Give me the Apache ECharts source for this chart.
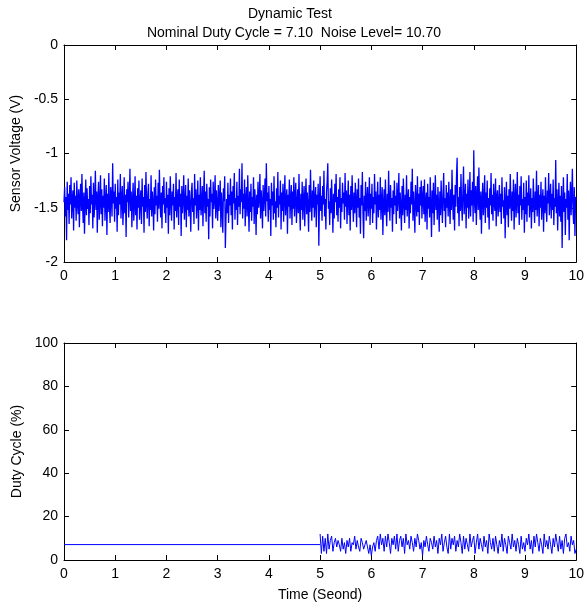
<!DOCTYPE html>
<html>
<head>
<meta charset="utf-8">
<script src="https://cdn.jsdelivr.net/npm/echarts@6/dist/echarts.min.js"></script>
<style>html,body{margin:0;padding:0;background:#fff}#c{width:587px;height:608px}</style>
</head>
<body>
<div id="c"></div>
<script>
// Top panel: sensor voltage sampled every 0.0125 s from 0 to 10 s
var voltStep = 0.0125;
var voltage = [
-1.45,-1.31,-1.58,-1.40,-1.80,-1.26,-1.52,-1.37,-1.65,-1.29,-1.47,-1.22,-1.60,-1.43,-1.34,-1.71,-1.27,-1.50,-1.39,-1.62,
-1.25,-1.46,-1.56,-1.33,-1.68,-1.41,-1.28,-1.53,-1.19,-1.48,-1.64,-1.36,-1.74,-1.44,-1.24,-1.57,-1.32,-1.51,-1.42,-1.66,
-1.30,-1.55,-1.21,-1.47,-1.38,-1.69,-1.27,-1.59,-1.43,-1.16,-1.52,-1.35,-1.73,-1.40,-1.26,-1.61,-1.45,-1.20,-1.56,-1.33,
-1.67,-1.39,-1.50,-1.23,-1.62,-1.44,-1.29,-1.75,-1.37,-1.54,-1.18,-1.48,-1.64,-1.31,-1.41,-1.58,-1.09,-1.46,-1.35,-1.63,
-1.28,-1.51,-1.40,-1.72,-1.24,-1.57,-1.36,-1.47,-1.19,-1.60,-1.42,-1.30,-1.66,-1.49,-1.22,-1.55,-1.38,-1.77,-1.33,-1.45,
-1.26,-1.59,-1.41,-1.14,-1.53,-1.35,-1.68,-1.43,-1.27,-1.62,-1.48,-1.21,-1.57,-1.39,-1.70,-1.32,-1.50,-1.25,-1.61,-1.44,
-1.34,-1.65,-1.23,-1.49,-1.40,-1.73,-1.29,-1.54,-1.17,-1.46,-1.60,-1.37,-1.28,-1.67,-1.42,-1.52,-1.20,-1.58,-1.35,-1.45,
-1.71,-1.31,-1.56,-1.24,-1.48,-1.39,-1.63,-1.27,-1.51,-1.15,-1.44,-1.59,-1.36,-1.69,-1.30,-1.47,-1.22,-1.55,-1.41,-1.64,
-1.26,-1.50,-1.38,-1.74,-1.32,-1.57,-1.21,-1.45,-1.62,-1.35,-1.48,-1.28,-1.70,-1.40,-1.53,-1.18,-1.59,-1.43,-1.33,-1.66,
-1.24,-1.49,-1.37,-1.76,-1.30,-1.55,-1.42,-1.20,-1.61,-1.46,-1.29,-1.68,-1.39,-1.52,-1.23,-1.58,-1.34,-1.47,-1.72,-1.36,
-1.27,-1.54,-1.41,-1.65,-1.19,-1.48,-1.33,-1.60,-1.44,-1.25,-1.71,-1.38,-1.52,-1.22,-1.57,-1.46,-1.30,-1.67,-1.40,-1.16,
-1.55,-1.35,-1.63,-1.28,-1.49,-1.42,-1.79,-1.31,-1.58,-1.24,-1.45,-1.37,-1.69,-1.26,-1.51,-1.43,-1.20,-1.60,-1.34,-1.47,
-1.62,-1.29,-1.53,-1.40,-1.25,-1.68,-1.36,-1.50,-1.73,-1.32,-1.44,-1.21,-1.87,-1.59,-1.42,-1.55,-1.27,-1.64,-1.38,-1.48,
-1.23,-1.57,-1.35,-1.70,-1.30,-1.46,-1.18,-1.61,-1.41,-1.52,-1.26,-1.66,-1.39,-1.49,-1.14,-1.56,-1.33,-1.45,-1.09,-1.60,
-1.37,-1.51,-1.24,-1.67,-1.43,-1.31,-1.58,-1.20,-1.47,-1.72,-1.35,-1.54,-1.28,-1.62,-1.40,-1.49,-1.22,-1.65,-1.33,-1.45,
-1.75,-1.38,-1.56,-1.26,-1.50,-1.42,-1.19,-1.60,-1.34,-1.46,-1.69,-1.29,-1.53,-1.41,-1.23,-1.58,-1.09,-1.44,-1.36,-1.63,
-1.30,-1.52,-1.42,-1.76,-1.27,-1.48,-1.35,-1.61,-1.21,-1.55,-1.44,-1.68,-1.32,-1.50,-1.17,-1.59,-1.39,-1.47,-1.25,-1.70,
-1.36,-1.53,-1.28,-1.63,-1.41,-1.20,-1.57,-1.45,-1.33,-1.74,-1.38,-1.49,-1.24,-1.60,-1.43,-1.29,-1.66,-1.35,-1.51,-1.22,
-1.58,-1.40,-1.27,-1.64,-1.46,-1.33,-1.55,-1.19,-1.49,-1.71,-1.37,-1.52,-1.26,-1.61,-1.43,-1.30,-1.67,-1.41,-1.23,-1.56,
-1.36,-1.48,-1.72,-1.29,-1.54,-1.15,-1.45,-1.62,-1.34,-1.50,-1.25,-1.59,-1.42,-1.31,-1.68,-1.38,-1.47,-1.28,-1.85,-1.44,
-1.21,-1.53,-1.39,-1.62,-1.30,-1.47,-1.16,-1.58,-1.42,-1.70,-1.35,-1.26,-1.09,-1.51,-1.44,-1.66,-1.32,-1.55,-1.24,-1.48,
-1.73,-1.37,-1.60,-1.28,-1.45,-1.19,-1.57,-1.40,-1.63,-1.33,-1.50,-1.22,-1.69,-1.41,-1.54,-1.27,-1.46,-1.36,-1.61,-1.18,
-1.49,-1.34,-1.65,-1.42,-1.25,-1.57,-1.38,-1.71,-1.30,-1.52,-1.20,-1.46,-1.63,-1.36,-1.55,-1.27,-1.44,-1.68,-1.33,-1.50,
-1.23,-1.59,-1.41,-1.74,-1.29,-1.48,-1.17,-1.56,-1.78,-1.39,-1.53,-1.26,-1.62,-1.43,-1.31,-1.58,-1.45,-1.22,-1.66,-1.37,
-1.51,-1.28,-1.64,-1.40,-1.55,-1.19,-1.47,-1.35,-1.70,-1.43,-1.26,-1.59,-1.38,-1.52,-1.22,-1.61,-1.44,-1.31,-1.75,-1.46,
-1.33,-1.57,-1.24,-1.49,-1.67,-1.37,-1.54,-1.16,-1.45,-1.62,-1.29,-1.50,-1.41,-1.72,-1.34,-1.56,-1.25,-1.48,-1.39,-1.65,
-1.27,-1.53,-1.42,-1.18,-1.60,-1.36,-1.49,-1.71,-1.30,-1.57,-1.23,-1.45,-1.64,-1.38,-1.52,-1.20,-1.58,-1.43,-1.33,-1.69,
-1.40,-1.55,-1.26,-1.47,-1.14,-1.62,-1.35,-1.50,-1.73,-1.29,-1.44,-1.58,-1.21,-1.54,-1.37,-1.66,-1.31,-1.48,-1.25,-1.60,
-1.42,-1.30,-1.56,-1.24,-1.63,-1.45,-1.36,-1.70,-1.28,-1.51,-1.40,-1.59,-1.22,-1.48,-1.77,-1.34,-1.55,-1.27,-1.66,-1.43,
-1.20,-1.52,-1.38,-1.61,-1.31,-1.47,-1.72,-1.35,-1.57,-1.25,-1.44,-1.64,-1.39,-1.18,-1.53,-1.41,-1.68,-1.29,-1.50,-1.36,
-1.58,-1.26,-1.46,-1.65,-1.33,-1.52,-1.15,-1.44,-1.61,-1.38,-1.71,-1.29,-1.49,-1.22,-1.04,-1.55,-1.40,-1.67,-1.31,-1.53,
-1.19,-1.47,-1.62,-1.35,-1.12,-1.56,-1.42,-1.28,-1.69,-1.37,-1.50,-1.24,-1.60,-1.45,-1.17,-1.58,-1.34,-1.48,-1.26,-1.63,
-0.97,-1.43,-1.55,-1.30,-1.66,-1.39,-1.21,-1.52,-1.13,-1.47,-1.61,-1.35,-1.74,-1.42,-1.27,-1.57,-1.44,-1.20,-1.64,-1.36,
-1.50,-1.25,-1.59,-1.41,-1.70,-1.32,-1.48,-1.18,-1.56,-1.38,-1.62,-1.28,-1.45,-1.53,-1.23,-1.67,-1.40,-1.34,-1.58,-1.46,
-1.29,-1.54,-1.37,-1.65,-1.22,-1.49,-1.43,-1.60,-1.31,-1.78,-1.45,-1.26,-1.57,-1.39,-1.68,-1.33,-1.51,-1.19,-1.46,-1.62,
-1.35,-1.53,-1.24,-1.70,-1.41,-1.28,-1.59,-1.44,-1.17,-1.55,-1.38,-1.66,-1.30,-1.48,-1.21,-1.61,-1.42,-1.52,-1.27,-1.73,
-1.40,-1.56,-1.25,-1.63,-1.36,-1.48,-1.20,-1.59,-1.44,-1.32,-1.69,-1.41,-1.54,-1.23,-1.47,-1.64,-1.35,-1.52,-1.16,-1.58,
-1.43,-1.29,-1.67,-1.38,-1.50,-1.26,-1.61,-1.45,-1.33,-1.72,-1.39,-1.55,-1.22,-1.49,-1.63,-1.34,-1.46,-1.18,-1.57,-1.42,
-1.28,-1.60,-1.37,-1.52,-1.24,-1.66,-1.41,-1.49,-1.06,-1.55,-1.33,-1.71,-1.45,-1.27,-1.58,-1.39,-1.63,-1.30,-1.87,-1.47,
-1.22,-1.54,-1.36,-1.75,-1.42,-1.50,-1.19,-1.61,-1.34,-1.80,-1.44,-1.26,-1.57,-1.38,-1.14,-1.53,-1.65,-1.31,-1.76,-1.40,
-1.43
];

// Bottom panel: nominal duty cycle held 0..5 s, then noisy duty cycle 5..10 s
var nominalDuty = 7.10;
var nominalSpan = [0, 5];
var dutyStart = 5;
var dutyStep = 0.025;
var duty = [
12,3,11,4,10,3,12,5,9,11,4,8,10,6,9,7,4,10,5,8,
3,9,6,10,4,8,7,11,5,9,6,4,10,8,5,7,9,6,3,7,
2,6,8,4,9,11,5,12,7,10,4,11,6,12,8,3,10,7,11,5,
12,4,9,11,6,10,3,12,7,9,5,11,8,4,10,6,12,9,5,8,
2,9,6,11,7,4,10,8,5,11,6,9,3,10,7,12,4,8,11,6,
3,12,5,10,7,11,4,9,6,12,8,3,11,5,10,7,4,12,6,9,
11,3,8,12,5,10,7,4,11,6,9,3,12,8,5,10,4,11,7,3,
9,6,12,4,10,7,3,11,8,5,12,6,9,4,10,7,3,11,5,8,
4,10,7,12,5,9,3,11,6,12,8,4,10,7,3,12,6,9,5,11,
7,3,10,6,12,8,4,11,5,9,3,10,12,6,8,4,11,7,9,3,
5
];

var titleMain = 'Dynamic Test';
var titleSub = 'Nominal Duty Cycle = 7.10  Noise Level= 10.70';
var xName = 'Time (Seond)';
var yNameTop = 'Sensor Voltage (V)';
var yNameBottom = 'Duty Cycle (%)';

var voltData = voltage.map(function (v, i) { return [+(i * voltStep).toFixed(4), v]; });
var dutyData = duty.map(function (v, i) { return [+(dutyStart + i * dutyStep).toFixed(3), v]; });
var nominalData = [[nominalSpan[0], nominalDuty], [nominalSpan[1], nominalDuty]];

var FONT = 'Liberation Sans, Arial, sans-serif';
var axisLine = { show: true, onZero: false, lineStyle: { color: '#000', width: 1 } };
var tick = { show: true, inside: true, length: 5, lineStyle: { color: '#000' } };
var lbl = { color: '#000', fontSize: 14, fontFamily: FONT };

function xAx(grid, pos, showLabel, name) {
  return {
    type: 'value', gridIndex: grid, position: pos, min: 0, max: 10, interval: 1,
    axisLine: axisLine, axisTick: tick, splitLine: { show: false },
    axisLabel: Object.assign({ show: showLabel, margin: 7 }, lbl),
    name: name || '', nameLocation: 'middle', nameGap: 28,
    nameTextStyle: { color: '#000', fontSize: 14, fontFamily: FONT }
  };
}
function yAx(grid, pos, showLabel, min, max, interval, name) {
  return {
    type: 'value', gridIndex: grid, position: pos, min: min, max: max, interval: interval,
    axisLine: axisLine, axisTick: tick, splitLine: { show: false },
    axisLabel: Object.assign({ show: showLabel, margin: 6 }, lbl),
    name: name || '', nameLocation: 'middle', nameGap: 32,
    nameTextStyle: { color: '#000', fontSize: 14, fontFamily: FONT }
  };
}

var chart = echarts.init(document.getElementById('c'), null, { renderer: 'canvas' });
chart.setOption({
  animation: false,
  backgroundColor: '#fff',
  title: [
    { text: titleMain, left: 285, top: 2, textAlign: 'center',
      textStyle: { color: '#000', fontSize: 14, fontWeight: 'normal', fontFamily: FONT } },
    { text: titleSub, left: 289, top: 21, textAlign: 'center',
      textStyle: { color: '#000', fontSize: 14, fontWeight: 'normal', fontFamily: FONT } }
  ],
  grid: [
    { left: 64, top: 45, width: 513, height: 217, show: false },
    { left: 64, top: 343, width: 513, height: 217, show: false }
  ],
  xAxis: [
    xAx(0, 'bottom', true),
    xAx(0, 'top', false),
    xAx(1, 'bottom', true, xName),
    xAx(1, 'top', false)
  ],
  yAxis: [
    yAx(0, 'left', true, -2, 0, 0.5, yNameTop),
    yAx(0, 'right', false, -2, 0, 0.5),
    yAx(1, 'left', true, 0, 100, 20, yNameBottom),
    yAx(1, 'right', false, 0, 100, 20)
  ],
  series: [
    { type: 'line', xAxisIndex: 0, yAxisIndex: 0, data: voltData, showSymbol: false,
      lineStyle: { color: '#0000ff', width: 1.3 }, silent: true },
    { type: 'line', xAxisIndex: 2, yAxisIndex: 2, data: nominalData, showSymbol: false,
      lineStyle: { color: '#0000ff', width: 1 }, silent: true },
    { type: 'line', xAxisIndex: 2, yAxisIndex: 2, data: dutyData, showSymbol: false, step: 'end',
      lineStyle: { color: '#0000ff', width: 1 }, silent: true }
  ]
});
</script>
</body>
</html>
